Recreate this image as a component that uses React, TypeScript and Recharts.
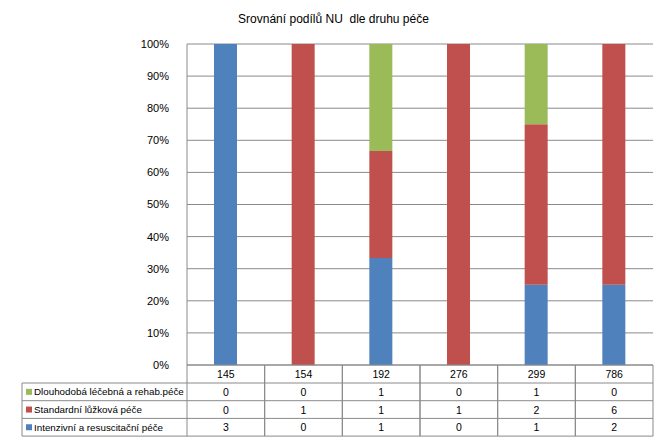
import React from "react";
import { Bar, BarChart, CartesianGrid, XAxis, YAxis } from "recharts";

const categories = ["145", "154", "192", "276", "299", "786"];
const dlouhodoba = [0, 0, 1, 0, 1, 0];
const standardni = [0, 1, 1, 1, 2, 6];
const intenzivni = [3, 0, 1, 0, 1, 2];
const yTicks = [0, 0.1, 0.2, 0.3, 0.4, 0.5, 0.6, 0.7, 0.8, 0.9, 1];

// table rows top to bottom, as in the reference
const series = [
  { key: "dlouhodoba", name: "Dlouhodobá léčebná a rehab.péče", color: "#9BBB59", values: dlouhodoba },
  { key: "standardni", name: "Standardní lůžková péče", color: "#C0504D", values: standardni },
  { key: "intenzivni", name: "Intenzivní a resuscitační péče", color: "#4F81BD", values: intenzivni },
];

const data = categories.map((c, i) => ({
  cat: c,
  dlouhodoba: dlouhodoba[i],
  standardni: standardni[i],
  intenzivni: intenzivni[i],
}));

const W = 667;
const H = 442;
const PLOT_LEFT = 187;
const PLOT_RIGHT = 653;
const TABLE_LEFT = 22;
const HEAD_H = 18;
const ROW_H = 17.7;
const LINE = "#8a8a8a";
const FONT = "'Liberation Sans', Arial, sans-serif";

function TableTick(props: any) {
  const { x, y, payload, index } = props;
  const half =
    payload && payload.offset ? payload.offset : (PLOT_RIGHT - PLOT_LEFT) / categories.length / 2;
  const left = x - half;
  const right = x + half;
  const i = categories.indexOf(String(payload.value));
  const bottom = y + HEAD_H + ROW_H * series.length;
  return (
    <g>
      <line x1={left} y1={y} x2={left} y2={bottom} stroke={LINE} />
      <line x1={right} y1={y} x2={right} y2={bottom} stroke={LINE} />
      <text x={x} y={y + HEAD_H / 2} textAnchor="middle" dominantBaseline="central" fontSize={10.5} fontFamily={FONT} fill="#000">
        {payload.value}
      </text>
      {series.map((s, r) => {
        const top = y + HEAD_H + ROW_H * r;
        return (
          <g key={s.key}>
            <line x1={left} y1={top} x2={right} y2={top} stroke={LINE} />
            <text x={x} y={top + ROW_H / 2} textAnchor="middle" dominantBaseline="central" fontSize={10.5} fontFamily={FONT} fill="#000">
              {s.values[i]}
            </text>
          </g>
        );
      })}
      <line x1={left} y1={bottom} x2={right} y2={bottom} stroke={LINE} />
      {index === 0 && (
        <g>
          <line x1={TABLE_LEFT} y1={y + HEAD_H} x2={TABLE_LEFT} y2={bottom} stroke={LINE} />
          {series.map((s, r) => {
            const top = y + HEAD_H + ROW_H * r;
            return (
              <g key={s.key}>
                <line x1={TABLE_LEFT} y1={top} x2={left} y2={top} stroke={LINE} />
                <rect x={TABLE_LEFT + 4} y={top + ROW_H / 2 - 3} width={6} height={6} fill={s.color} />
                <text x={TABLE_LEFT + 12} y={top + ROW_H / 2} dominantBaseline="central" fontSize={9.8} fontFamily={FONT} fill="#000">
                  {s.name}
                </text>
              </g>
            );
          })}
          <line x1={TABLE_LEFT} y1={bottom} x2={left} y2={bottom} stroke={LINE} />
        </g>
      )}
    </g>
  );
}

export default function App() {
  return (
    <div style={{ position: "absolute", left: 0, top: 0, width: W, height: H, background: "#fff", fontFamily: FONT }}>
      <div
        style={{
          position: "absolute",
          top: 12,
          left: 0,
          width: W,
          textAlign: "center",
          fontSize: 12,
          color: "#000",
          whiteSpace: "pre",
        }}
      >
        {"Srovnání podílů NU  dle druhu péče"}
      </div>
      <BarChart
        width={W}
        height={H}
        data={data}
        stackOffset="expand"
        margin={{ top: 44, right: W - PLOT_RIGHT, bottom: 0, left: 0 }}
      >
        <CartesianGrid vertical={false} stroke={LINE} />
        <XAxis
          dataKey="cat"
          height={H - 365}
          axisLine={{ stroke: LINE }}
          tickLine={false}
          tickSize={0}
          tickMargin={0}
          interval={0}
          tick={<TableTick />}
        />
        <YAxis
          width={PLOT_LEFT}
          domain={[0, 1]}
          ticks={yTicks}
          axisLine={{ stroke: LINE }}
          tickLine={false}
          tickMargin={12}
          tick={{ fontSize: 11, fill: "#000", fontFamily: FONT }}
          tickFormatter={(v: number) => `${Math.round(v * 100)}%`}
        />
        <Bar dataKey="intenzivni" stackId="a" fill="#4F81BD" barSize={23} isAnimationActive={false} />
        <Bar dataKey="standardni" stackId="a" fill="#C0504D" barSize={23} isAnimationActive={false} />
        <Bar dataKey="dlouhodoba" stackId="a" fill="#9BBB59" barSize={23} isAnimationActive={false} />
      </BarChart>
    </div>
  );
}
